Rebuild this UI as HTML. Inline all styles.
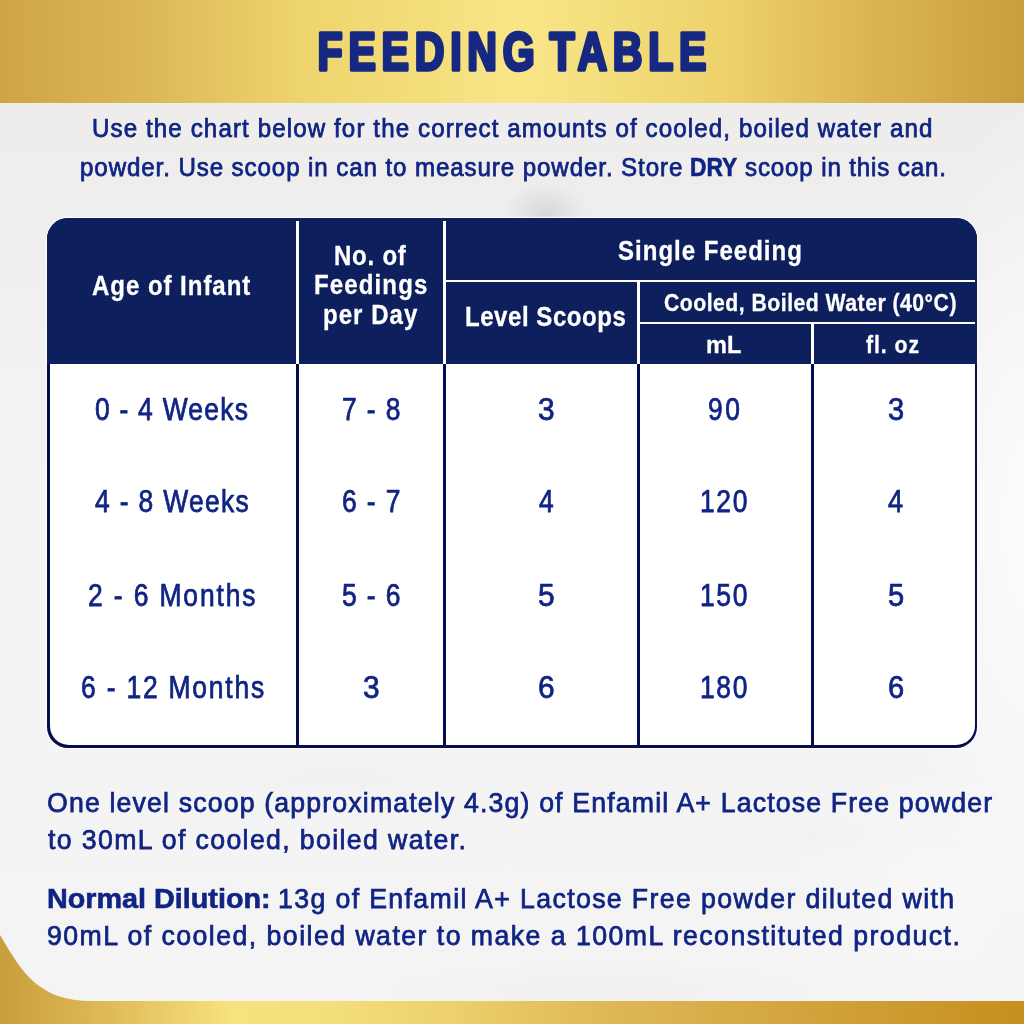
<!DOCTYPE html>
<html>
<head>
<meta charset="utf-8">
<style>
html,body{margin:0;padding:0;}
body{width:1024px;height:1024px;position:relative;overflow:hidden;background:#f1f0f0;font-family:"Liberation Sans",sans-serif;}
#bg{position:absolute;left:0;top:0;width:1024px;height:1024px;
 background:
  radial-gradient(ellipse 42px 34px at 546px 216px, rgba(212,212,212,0.9), rgba(212,212,212,0) 100%),
  radial-gradient(ellipse 130px 420px at 1030px 520px, rgba(252,252,252,1), rgba(252,252,252,0) 100%),
  radial-gradient(ellipse 150px 130px at 940px 900px, rgba(249,248,248,0.9), rgba(249,248,248,0) 100%),
  radial-gradient(ellipse 220px 28px at 600px 990px, rgba(232,229,229,0.35), rgba(232,229,229,0) 100%),
  radial-gradient(ellipse 130px 24px at 340px 778px, rgba(234,233,233,0.3), rgba(234,233,233,0) 100%),
  radial-gradient(ellipse 70px 20px at 830px 835px, rgba(236,232,231,0.3), rgba(236,232,231,0) 100%),
  linear-gradient(180deg,#eeedec 103px,#efeeee 230px,#f3f3f3 420px,#f5f4f4 1000px);}
#hdr{position:absolute;left:0;top:0;width:1024px;height:103px;background:linear-gradient(90deg,#cfa445 0%,#dcb858 14.6%,#eed46c 29.3%,#f8e586 50%,#f7e384 54%,#edd26b 70.7%,#dbb452 85.4%,#c99e3a 100%);}
#tbl{position:absolute;left:47px;top:218px;width:930px;height:529.5px;border-radius:21px;background:#040d4e;overflow:hidden;box-shadow:0 0 0 1.2px rgba(255,255,255,0.75);}
#tbody{position:absolute;left:2.5px;top:145.5px;width:925px;height:381.5px;background:#fff;border-radius:0 0 19px 19px;}
.wl{position:absolute;background:#fff;}
.nl{position:absolute;background:#040d4e;}
#thead{position:absolute;left:0;top:0;width:930px;height:145.5px;background:#0d1f5d;}
.tx{position:absolute;white-space:nowrap;transform-origin:0 0;font-family:"Liberation Sans",sans-serif;}
#foot{position:absolute;left:0;top:0;width:1024px;height:1024px;}
</style>
</head>
<body>
<div id="bg"></div>
<div id="hdr"></div>
<svg width="1024" height="103" style="position:absolute;left:0;top:0"><g transform="scale(0.768,1)" font-family="Liberation Sans" font-weight="700" font-size="53.5" fill="#162882" stroke="#162882" stroke-width="3.6" stroke-linejoin="round" letter-spacing="7.5"><text x="413.54" y="70.2">FEEDING</text><text x="715.62" y="70.2">TABLE</text></g></svg>
<div id="tbl">
  <div id="thead"></div>
  <div id="tbody"></div>
  <div class="wl" style="left:249px;top:2.5px;width:3px;height:143px"></div>
  <div class="wl" style="left:396px;top:2.5px;width:3px;height:143px"></div>
  <div class="wl" style="left:399px;top:62px;width:528.5px;height:2px"></div>
  <div class="wl" style="left:590px;top:64px;width:3px;height:81.5px"></div>
  <div class="wl" style="left:593px;top:104px;width:334.5px;height:2px"></div>
  <div class="wl" style="left:764px;top:106px;width:3px;height:39.5px"></div>
  <div class="nl" style="left:249px;top:145.5px;width:3px;height:384px"></div>
  <div class="nl" style="left:396px;top:145.5px;width:3px;height:384px"></div>
  <div class="nl" style="left:590px;top:145.5px;width:3px;height:384px"></div>
  <div class="nl" style="left:764px;top:145.5px;width:3px;height:384px"></div>
</div>
<div class='tx' style='left:91.50px;top:115.70px;font-size:25.40px;line-height:25.40px;font-weight:400;color:#102483;-webkit-text-stroke:0.75px #102483;letter-spacing:1.167px;transform:scaleX(0.9500)'>Use the chart below for the correct amounts of cooled, boiled water and</div>
<div class='tx' style='left:79.75px;top:154.50px;font-size:25.40px;line-height:25.40px;font-weight:400;color:#102483;-webkit-text-stroke:0.75px #102483;letter-spacing:0.948px;transform:scaleX(0.9500)'>powder. Use scoop in can to measure powder. Store</div>
<div class='tx' style='left:689.50px;top:154.50px;font-size:25.40px;line-height:25.40px;font-weight:700;color:#102483;-webkit-text-stroke:0.6px #102483;letter-spacing:0.000px;transform:scaleX(0.8961)'>DRY</div>
<div class='tx' style='left:744.50px;top:154.50px;font-size:25.40px;line-height:25.40px;font-weight:400;color:#102483;-webkit-text-stroke:0.75px #102483;letter-spacing:0.898px;transform:scaleX(0.9500)'>scoop in this can.</div>
<div class='tx' style='left:92.42px;top:272.39px;font-size:27.30px;line-height:27.30px;font-weight:700;color:#ffffff;-webkit-text-stroke:0.3px #ffffff;letter-spacing:1.091px;transform:scaleX(0.8800)'>Age of Infant</div>
<div class='tx' style='left:334.44px;top:241.79px;font-size:27.30px;line-height:27.30px;font-weight:700;color:#ffffff;-webkit-text-stroke:0.3px #ffffff;letter-spacing:0.868px;transform:scaleX(0.8800)'>No. of</div>
<div class='tx' style='left:314.34px;top:271.39px;font-size:27.30px;line-height:27.30px;font-weight:700;color:#ffffff;-webkit-text-stroke:0.3px #ffffff;letter-spacing:1.273px;transform:scaleX(0.8800)'>Feedings</div>
<div class='tx' style='left:323.44px;top:300.59px;font-size:27.30px;line-height:27.30px;font-weight:700;color:#ffffff;-webkit-text-stroke:0.3px #ffffff;letter-spacing:1.167px;transform:scaleX(0.8800)'>per Day</div>
<div class='tx' style='left:618.02px;top:236.99px;font-size:27.30px;line-height:27.30px;font-weight:700;color:#ffffff;-webkit-text-stroke:0.3px #ffffff;letter-spacing:1.140px;transform:scaleX(0.8800)'>Single Feeding</div>
<div class='tx' style='left:464.64px;top:302.99px;font-size:27.30px;line-height:27.30px;font-weight:700;color:#ffffff;-webkit-text-stroke:0.3px #ffffff;letter-spacing:0.616px;transform:scaleX(0.8800)'>Level Scoops</div>
<div class='tx' style='left:663.62px;top:290.60px;font-size:24.10px;line-height:24.10px;font-weight:700;color:#ffffff;-webkit-text-stroke:0.3px #ffffff;letter-spacing:0.552px;transform:scaleX(0.8800)'>Cooled, Boiled Water (40°C)</div>
<div class='tx' style='left:705.92px;top:332.70px;font-size:24.10px;line-height:24.10px;font-weight:700;color:#ffffff;-webkit-text-stroke:0.3px #ffffff;letter-spacing:0.000px;transform:scaleX(0.9771)'>mL</div>
<div class='tx' style='left:866.20px;top:332.60px;font-size:24.10px;line-height:24.10px;font-weight:700;color:#ffffff;-webkit-text-stroke:0.3px #ffffff;letter-spacing:1.086px;transform:scaleX(0.8800)'>fl. oz</div>
<div class='tx' style='left:47.05px;top:788.81px;font-size:28.10px;line-height:28.10px;font-weight:400;color:#102483;-webkit-text-stroke:0.75px #102483;letter-spacing:1.213px;transform:scaleX(0.9500)'>One level scoop (approximately 4.3g) of Enfamil A+ Lactose Free powder</div>
<div class='tx' style='left:48.00px;top:826.01px;font-size:28.10px;line-height:28.10px;font-weight:400;color:#102483;-webkit-text-stroke:0.75px #102483;letter-spacing:1.431px;transform:scaleX(0.9500)'>to 30mL of cooled, boiled water.</div>
<div class='tx' style='left:46.98px;top:885.21px;font-size:28.10px;line-height:28.10px;font-weight:700;color:#102483;-webkit-text-stroke:0.6px #102483;letter-spacing:0.000px;transform:scaleX(1.0233)'>Normal Dilution:</div>
<div class='tx' style='left:277.70px;top:885.21px;font-size:28.10px;line-height:28.10px;font-weight:400;color:#102483;-webkit-text-stroke:0.75px #102483;letter-spacing:1.441px;transform:scaleX(0.9500)'>13g of Enfamil A+ Lactose Free powder diluted with</div>
<div class='tx' style='left:47.05px;top:922.21px;font-size:28.10px;line-height:28.10px;font-weight:400;color:#102483;-webkit-text-stroke:0.75px #102483;letter-spacing:1.529px;transform:scaleX(0.9500)'>90mL of cooled, boiled water to make a 100mL reconstituted product.</div>
<div class='tx' style='left:95.44px;top:394.59px;font-size:30.72px;line-height:30.72px;font-weight:400;color:#102483;-webkit-text-stroke:0.75px #102483;letter-spacing:1.440px;transform:scaleX(0.8600)'>0 - 4 Weeks</div>
<div class='tx' style='left:341.64px;top:394.59px;font-size:30.72px;line-height:30.72px;font-weight:400;color:#102483;-webkit-text-stroke:0.75px #102483;letter-spacing:1.599px;transform:scaleX(0.8600)'>7 - 8</div>
<div class='tx' style='left:537.73px;top:394.59px;font-size:30.72px;line-height:30.72px;font-weight:400;color:#102483;-webkit-text-stroke:0.75px #102483;letter-spacing:0.000px;transform:scaleX(0.9733)'>3</div>
<div class='tx' style='left:708.44px;top:394.59px;font-size:30.72px;line-height:30.72px;font-weight:400;color:#102483;-webkit-text-stroke:0.75px #102483;letter-spacing:3.000px;transform:scaleX(0.8600)'>90</div>
<div class='tx' style='left:887.95px;top:394.59px;font-size:30.72px;line-height:30.72px;font-weight:400;color:#102483;-webkit-text-stroke:0.75px #102483;letter-spacing:0.000px;transform:scaleX(0.9467)'>3</div>
<div class='tx' style='left:95.20px;top:486.99px;font-size:30.72px;line-height:30.72px;font-weight:400;color:#102483;-webkit-text-stroke:0.75px #102483;letter-spacing:1.549px;transform:scaleX(0.8600)'>4 - 8 Weeks</div>
<div class='tx' style='left:538.70px;top:486.99px;font-size:30.72px;line-height:30.72px;font-weight:400;color:#102483;-webkit-text-stroke:0.75px #102483;letter-spacing:0.000px;transform:scaleX(0.8588)'>4</div>
<div class='tx' style='left:700.28px;top:486.99px;font-size:30.72px;line-height:30.72px;font-weight:400;color:#102483;-webkit-text-stroke:0.75px #102483;letter-spacing:1.953px;transform:scaleX(0.8600)'>120</div>
<div class='tx' style='left:888.00px;top:486.99px;font-size:30.72px;line-height:30.72px;font-weight:400;color:#102483;-webkit-text-stroke:0.75px #102483;letter-spacing:0.000px;transform:scaleX(0.8824)'>4</div>
<div class='tx' style='left:88.44px;top:580.79px;font-size:30.72px;line-height:30.72px;font-weight:400;color:#102483;-webkit-text-stroke:0.75px #102483;letter-spacing:2.184px;transform:scaleX(0.8600)'>2 - 6 Months</div>
<div class='tx' style='left:80.64px;top:673.29px;font-size:30.72px;line-height:30.72px;font-weight:400;color:#102483;-webkit-text-stroke:0.75px #102483;letter-spacing:2.097px;transform:scaleX(0.8600)'>6 - 12 Months</div>
<div class='tx' style='left:342.02px;top:486.99px;font-size:30.72px;line-height:30.72px;font-weight:400;color:#102483;-webkit-text-stroke:0.75px #102483;letter-spacing:1.599px;transform:scaleX(0.8600)'>6 - 7</div>
<div class='tx' style='left:341.59px;top:580.79px;font-size:30.72px;line-height:30.72px;font-weight:400;color:#102483;-webkit-text-stroke:0.75px #102483;letter-spacing:1.599px;transform:scaleX(0.8600)'>5 - 6</div>
<div class='tx' style='left:537.73px;top:580.79px;font-size:30.72px;line-height:30.72px;font-weight:400;color:#102483;-webkit-text-stroke:0.75px #102483;letter-spacing:0.000px;transform:scaleX(0.9733)'>5</div>
<div class='tx' style='left:700.03px;top:580.79px;font-size:30.72px;line-height:30.72px;font-weight:400;color:#102483;-webkit-text-stroke:0.75px #102483;letter-spacing:1.953px;transform:scaleX(0.8600)'>150</div>
<div class='tx' style='left:887.65px;top:580.79px;font-size:30.72px;line-height:30.72px;font-weight:400;color:#102483;-webkit-text-stroke:0.75px #102483;letter-spacing:0.000px;transform:scaleX(0.9467)'>5</div>
<div class='tx' style='left:362.73px;top:673.29px;font-size:30.72px;line-height:30.72px;font-weight:400;color:#102483;-webkit-text-stroke:0.75px #102483;letter-spacing:0.000px;transform:scaleX(0.9733)'>3</div>
<div class='tx' style='left:537.73px;top:673.29px;font-size:30.72px;line-height:30.72px;font-weight:400;color:#102483;-webkit-text-stroke:0.75px #102483;letter-spacing:0.000px;transform:scaleX(0.9733)'>6</div>
<div class='tx' style='left:700.03px;top:673.29px;font-size:30.72px;line-height:30.72px;font-weight:400;color:#102483;-webkit-text-stroke:0.75px #102483;letter-spacing:1.953px;transform:scaleX(0.8600)'>180</div>
<div class='tx' style='left:887.65px;top:673.29px;font-size:30.72px;line-height:30.72px;font-weight:400;color:#102483;-webkit-text-stroke:0.75px #102483;letter-spacing:0.000px;transform:scaleX(0.9467)'>6</div>
<svg id="foot" width="1024" height="1024" viewBox="0 0 1024 1024">
  <defs>
    <linearGradient id="fg" x1="0" y1="0" x2="1024" y2="0" gradientUnits="userSpaceOnUse">
      <stop offset="0" stop-color="#c99e3c"/>
      <stop offset="0.1" stop-color="#deb955"/>
      <stop offset="0.225" stop-color="#f6e27e"/>
      <stop offset="0.32" stop-color="#f4df7c"/>
      <stop offset="0.44" stop-color="#ecd16c"/>
      <stop offset="0.586" stop-color="#dfb956"/>
      <stop offset="0.732" stop-color="#d5a944"/>
      <stop offset="0.879" stop-color="#cc9b30"/>
      <stop offset="1" stop-color="#c78f1d"/>
    </linearGradient>
    <linearGradient id="cg" x1="0" y1="0" x2="120" y2="0" gradientUnits="userSpaceOnUse">
      <stop offset="0" stop-color="#c99c38"/>
      <stop offset="1" stop-color="#d2a844"/>
    </linearGradient>
  </defs>
  <path d="M0,935 C22,972 38,1001 92,1001 L1024,1001 L1024,1024 L0,1024 Z" fill="url(#fg)"/>
</svg>
</body>
</html>
